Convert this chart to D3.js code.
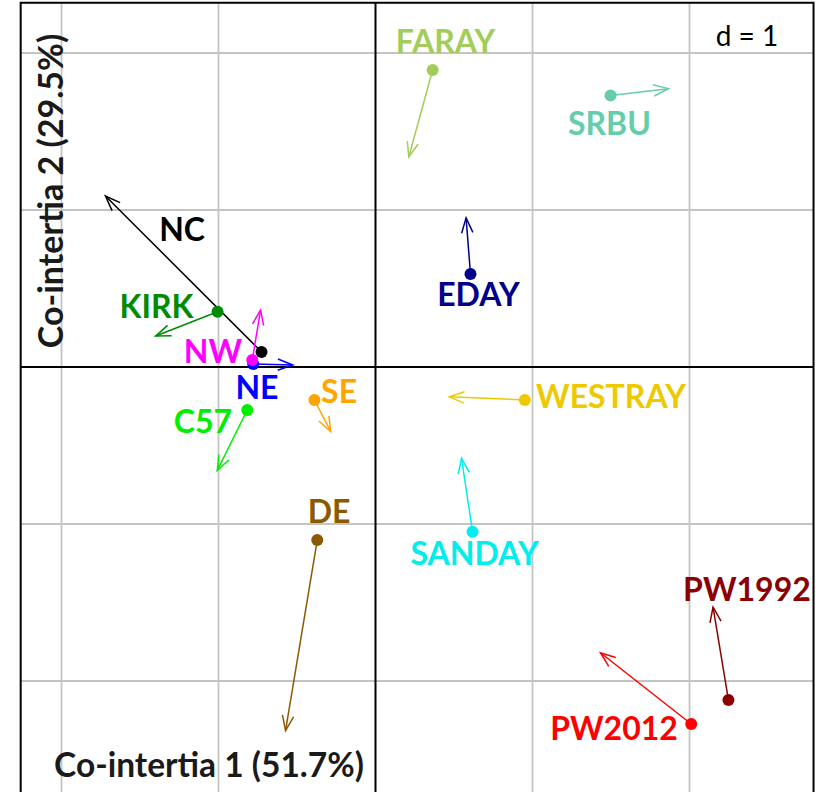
<!DOCTYPE html>
<html>
<head>
<meta charset="utf-8">
<script src="https://cdn.jsdelivr.net/npm/d3@7"></script>
<style>
  body { margin: 0; background: #fff; }
  svg { display: block; }
  text { font-family: Lato, "Open Sans", sans-serif; }
</style>
</head>
<body>
<svg id="viz" width="823" height="792"></svg>
<script>
// sites, in drawing order
var sites = ["FARAY", "SRBU", "EDAY", "NC", "KIRK", "NE", "NW", "SE", "C57", "DE", "WESTRAY", "SANDAY", "PW1992", "PW2012"];
// dot coordinates (co-inertia axes 1 and 2)
var dotX = [0.364, 1.497, 0.605, -0.726, -1.006, -0.779, -0.785, -0.389, -0.817, -0.371, 0.951, 0.618, 2.248, 2.011];
var dotY = [1.892, 1.729, 0.592, 0.096, 0.352, 0.019, 0.045, -0.210, -0.274, -1.102, -0.210, -1.049, -2.121, -2.274];
// arrow tips
var tipX = [0.212, 1.866, 0.577, -1.720, -1.400, -0.527, -0.732, -0.285, -1.008, -0.573, 0.470, 0.548, 2.150, 1.433];
var tipY = [1.338, 1.773, 0.950, 1.089, 0.197, 0.013, 0.363, -0.412, -0.660, -2.316, -0.190, -0.582, -1.530, -1.820];
// label centres
var labX = [0.446, 1.490, 0.656, -1.232, -1.395, -0.755, -1.035, -0.232, -1.099, -0.296, 1.500, 0.631, 2.366, 1.519];
var labY = [2.076, 1.551, 0.459, 0.873, 0.385, -0.131, 0.099, -0.159, -0.347, -0.920, -0.191, -1.188, -1.420, -2.303];
var colors = ["#a2cd5a", "#66cdaa", "#00008b", "#000000", "#008b00", "#0000ff", "#ff00ff", "#ffa500", "#00ee00", "#8b5a00", "#eec900", "#00eeee", "#8b0000", "#ff0000"];
var gridTicks = [-2, -1, 1, 2];
var xLabel = "Co-intertia 1 (51.7%)";
var yLabel = "Co-intertia 2 (29.5%)";

var svg = d3.select("#viz");

var x = d3.scaleLinear().domain([-2.26, 2.79]).range([375.5 - 2.26 * 157, 375.5 + 2.79 * 157]);
var y = d3.scaleLinear().domain([-2.9, 2.32]).range([367 + 2.9 * 157, 367 - 2.32 * 157]);

// grid
svg.append("g").selectAll("line.gx")
    .data(gridTicks).enter().append("line")
    .attr("x1", d => x(d)).attr("x2", d => x(d))
    .attr("y1", y(2.32)).attr("y2", y(-2.9))
    .attr("stroke", "#c4c4c4").attr("stroke-width", 1.8);
svg.append("g").selectAll("line.gy")
    .data(gridTicks).enter().append("line")
    .attr("y1", d => y(d)).attr("y2", d => y(d))
    .attr("x1", x(-2.26)).attr("x2", x(2.79))
    .attr("stroke", "#c4c4c4").attr("stroke-width", 1.8);

// axes through origin
svg.append("line").attr("x1", x(0)).attr("x2", x(0)).attr("y1", y(2.32)).attr("y2", y(-2.9))
    .attr("stroke", "#000").attr("stroke-width", 2);
svg.append("line").attr("y1", y(0)).attr("y2", y(0)).attr("x1", x(-2.26)).attr("x2", x(2.79))
    .attr("stroke", "#000").attr("stroke-width", 2);

// frame
svg.append("rect")
    .attr("x", x(-2.26)).attr("y", y(2.32))
    .attr("width", x(2.79) - x(-2.26)).attr("height", y(-2.9) - y(2.32))
    .attr("fill", "none").attr("stroke", "#000").attr("stroke-width", 2);

// axis titles
svg.append("text").attr("x", 209).attr("y", 777)
    .attr("text-anchor", "middle").attr("font-weight", "bold").attr("font-size", 33.5)
    .attr("fill", "#1a1a1a").text(xLabel);
svg.append("text").attr("transform", "translate(63,191) rotate(-90)")
    .attr("text-anchor", "middle").attr("font-weight", "bold").attr("font-size", 34)
    .attr("fill", "#1a1a1a").text(yLabel);

svg.append("text").attr("x", 747).attr("y", 46)
    .attr("text-anchor", "middle").attr("font-size", 28).attr("fill", "#000").text("d = 1");

var idx = d3.range(sites.length);

// arrows
var arrows = svg.append("g").selectAll("g").data(idx).enter().append("g")
    .attr("stroke", i => colors[i]).attr("stroke-width", 1.5).attr("fill", "none");
arrows.append("line")
    .attr("x1", i => x(dotX[i])).attr("y1", i => y(dotY[i]))
    .attr("x2", i => x(tipX[i])).attr("y2", i => y(tipY[i]));
arrows.append("path").attr("d", function(i) {
    var x0 = x(dotX[i]), y0 = y(dotY[i]), x1 = x(tipX[i]), y1 = y(tipY[i]);
    var a = Math.atan2(y0 - y1, x0 - x1), len = 16, sp = 0.36;
    var p = d3.path();
    p.moveTo(x1 + len * Math.cos(a + sp), y1 + len * Math.sin(a + sp));
    p.lineTo(x1, y1);
    p.lineTo(x1 + len * Math.cos(a - sp), y1 + len * Math.sin(a - sp));
    return p.toString();
});

// dots
svg.append("g").selectAll("circle").data(idx).enter().append("circle")
    .attr("cx", i => x(dotX[i])).attr("cy", i => y(dotY[i]))
    .attr("r", 6).attr("fill", i => colors[i]);

// labels
svg.append("g").selectAll("text").data(idx).enter().append("text")
    .attr("x", i => x(labX[i])).attr("y", i => y(labY[i]) + 11.5)
    .attr("text-anchor", "middle").attr("font-weight", "bold").attr("font-size", 32)
    .attr("fill", i => colors[i]).text(i => sites[i]);
</script>
</body>
</html>
